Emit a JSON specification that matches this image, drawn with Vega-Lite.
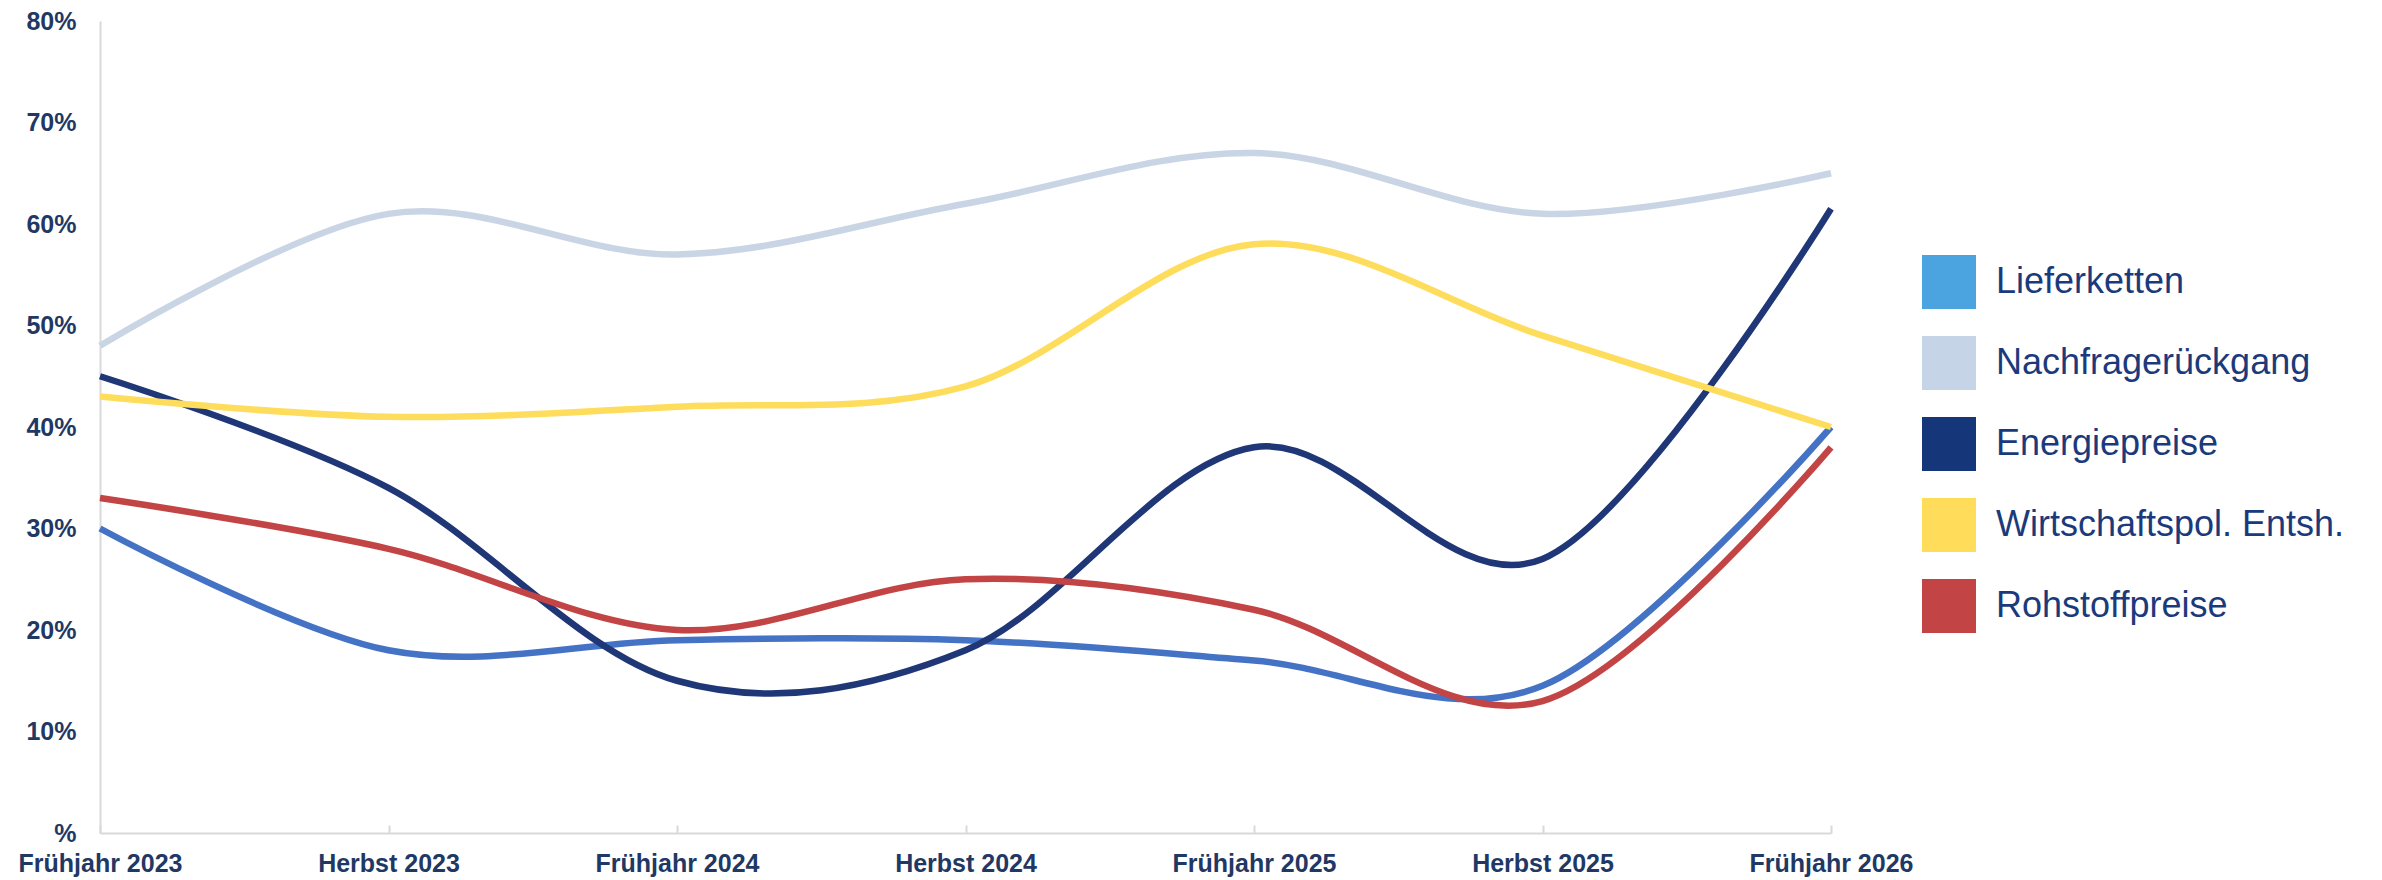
{
  "$schema": "https://vega.github.io/schema/vega-lite/v6.json",
  "width": 1731,
  "height": 812,
  "autosize": {"type": "none"},
  "padding": {"left": 100, "top": 21, "right": 551, "bottom": 47},
  "background": "white",
  "config": {
    "view": {"stroke": null},
    "font": "Liberation Sans"
  },
  "data": {
    "values": [
      {"serie": "Lieferketten", "zeit": "Frühjahr 2023", "wert": 30},
      {"serie": "Lieferketten", "zeit": "Herbst 2023", "wert": 18},
      {"serie": "Lieferketten", "zeit": "Frühjahr 2024", "wert": 19},
      {"serie": "Lieferketten", "zeit": "Herbst 2024", "wert": 19},
      {"serie": "Lieferketten", "zeit": "Frühjahr 2025", "wert": 17},
      {"serie": "Lieferketten", "zeit": "Herbst 2025", "wert": 14.5},
      {"serie": "Lieferketten", "zeit": "Frühjahr 2026", "wert": 40},
      {"serie": "Nachfragerückgang", "zeit": "Frühjahr 2023", "wert": 48},
      {"serie": "Nachfragerückgang", "zeit": "Herbst 2023", "wert": 61},
      {"serie": "Nachfragerückgang", "zeit": "Frühjahr 2024", "wert": 57},
      {"serie": "Nachfragerückgang", "zeit": "Herbst 2024", "wert": 62},
      {"serie": "Nachfragerückgang", "zeit": "Frühjahr 2025", "wert": 67},
      {"serie": "Nachfragerückgang", "zeit": "Herbst 2025", "wert": 61},
      {"serie": "Nachfragerückgang", "zeit": "Frühjahr 2026", "wert": 65},
      {"serie": "Energiepreise", "zeit": "Frühjahr 2023", "wert": 45},
      {"serie": "Energiepreise", "zeit": "Herbst 2023", "wert": 34},
      {"serie": "Energiepreise", "zeit": "Frühjahr 2024", "wert": 15},
      {"serie": "Energiepreise", "zeit": "Herbst 2024", "wert": 18},
      {"serie": "Energiepreise", "zeit": "Frühjahr 2025", "wert": 38},
      {"serie": "Energiepreise", "zeit": "Herbst 2025", "wert": 27},
      {"serie": "Energiepreise", "zeit": "Frühjahr 2026", "wert": 61.5},
      {"serie": "Wirtschaftspol. Entsh.", "zeit": "Frühjahr 2023", "wert": 43},
      {"serie": "Wirtschaftspol. Entsh.", "zeit": "Herbst 2023", "wert": 41},
      {"serie": "Wirtschaftspol. Entsh.", "zeit": "Frühjahr 2024", "wert": 42},
      {"serie": "Wirtschaftspol. Entsh.", "zeit": "Herbst 2024", "wert": 44},
      {"serie": "Wirtschaftspol. Entsh.", "zeit": "Frühjahr 2025", "wert": 58},
      {"serie": "Wirtschaftspol. Entsh.", "zeit": "Herbst 2025", "wert": 49},
      {"serie": "Wirtschaftspol. Entsh.", "zeit": "Frühjahr 2026", "wert": 40},
      {"serie": "Rohstoffpreise", "zeit": "Frühjahr 2023", "wert": 33},
      {"serie": "Rohstoffpreise", "zeit": "Herbst 2023", "wert": 28},
      {"serie": "Rohstoffpreise", "zeit": "Frühjahr 2024", "wert": 20},
      {"serie": "Rohstoffpreise", "zeit": "Herbst 2024", "wert": 25},
      {"serie": "Rohstoffpreise", "zeit": "Frühjahr 2025", "wert": 22},
      {"serie": "Rohstoffpreise", "zeit": "Herbst 2025", "wert": 13},
      {"serie": "Rohstoffpreise", "zeit": "Frühjahr 2026", "wert": 38}
    ]
  },
  "encoding": {
    "x": {
      "field": "zeit",
      "type": "ordinal",
      "sort": ["Frühjahr 2023", "Herbst 2023", "Frühjahr 2024", "Herbst 2024", "Frühjahr 2025", "Herbst 2025", "Frühjahr 2026"],
      "scale": {"type": "point", "padding": 0},
      "axis": {
        "title": null,
        "labelAngle": 0,
        "labelFont": "Liberation Sans",
        "labelFontSize": 25,
        "labelFontWeight": "bold",
        "labelColor": "#1F3864",
        "labelPadding": 26,
        "domainColor": "#D9D9D9",
        "domainWidth": 2,
        "ticks": true,
        "tickSize": -8,
        "tickColor": "#D9D9D9",
        "tickWidth": 2,
        "grid": false
      }
    },
    "y": {
      "field": "wert",
      "type": "quantitative",
      "scale": {"domain": [0, 80], "nice": false},
      "axis": {
        "title": null,
        "values": [0, 10, 20, 30, 40, 50, 60, 70, 80],
        "labelExpr": "datum.value == 0 ? '%' : datum.value + '%'",
        "labelFont": "Liberation Sans",
        "labelFontSize": 25,
        "labelFontWeight": "bold",
        "labelColor": "#1F3864",
        "labelPadding": 24,
        "ticks": false,
        "grid": false,
        "domainColor": "#D9D9D9",
        "domainWidth": 2
      }
    }
  },
  "layer": [
    {
      "mark": {"type": "square", "opacity": 0, "size": 10},
      "encoding": {
        "fill": {
          "field": "serie",
          "type": "nominal",
          "scale": {
            "domain": ["Lieferketten", "Nachfragerückgang", "Energiepreise", "Wirtschaftspol. Entsh.", "Rohstoffpreise"],
            "range": ["#4BA3DF", "#C6D4E7", "#16367A", "#FFDD5A", "#C34444"]
          },
          "legend": {
            "title": null,
            "orient": "none",
            "legendX": 1822,
            "legendY": 234,
            "symbolType": "square",
            "symbolSize": 2916,
            "symbolOpacity": 1,
            "symbolStrokeWidth": 0,
            "labelFont": "Liberation Sans",
            "labelFontSize": 36,
            "labelColor": "#1B3A7C",
            "labelOffset": 20,
            "rowPadding": 27,
            "padding": 0,
            "labelLimit": 600
          }
        }
      }
    },
    {
      "mark": {"type": "line", "interpolate": "cardinal", "strokeWidth": 6.5},
      "encoding": {
        "color": {
          "field": "serie",
          "type": "nominal",
          "scale": {
            "domain": ["Lieferketten", "Nachfragerückgang", "Energiepreise", "Wirtschaftspol. Entsh.", "Rohstoffpreise"],
            "range": ["#4472C4", "#C9D5E5", "#1F3677", "#FFDD5C", "#C34444"]
          },
          "legend": null
        }
      }
    }
  ]
}
